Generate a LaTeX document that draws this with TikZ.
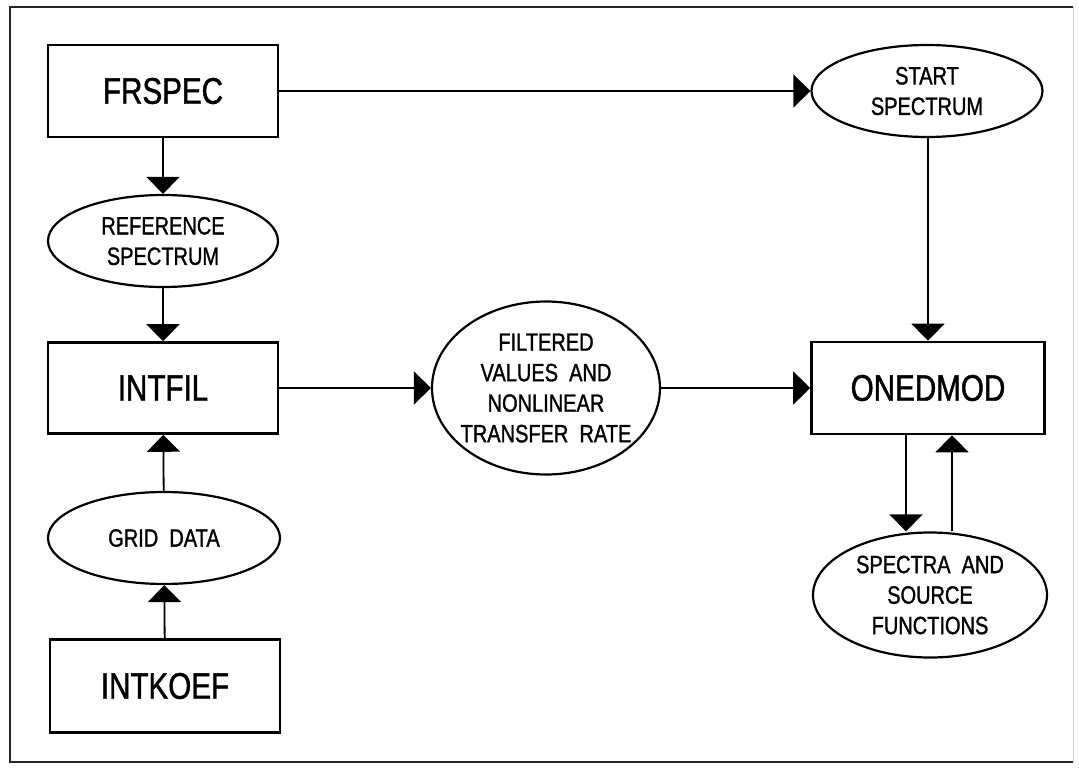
\documentclass[tikz,border=0pt]{standalone}
\usepackage{fontspec}
\setmainfont{Liberation Sans}
\newfontfamily\plotfont[FakeStretch=0.8,FakeBold=1.2]{Liberation Sans}
\usetikzlibrary{arrows.meta,shapes.geometric}
\begin{document}
\begin{tikzpicture}[x=1pt,y=-1pt,
  boxnode/.style={draw,line width=2.6pt,rectangle,minimum width=230pt,minimum height=92pt,inner sep=0pt,
    font=\plotfont\fontsize{37}{40}\selectfont},
  ovalnode/.style={draw,line width=2.2pt,ellipse,inner xsep=-60pt,inner ysep=-60pt,align=center,
    font=\plotfont\fontsize{25}{30.5}\selectfont},
  arr/.style={line width=1.8pt,-{Triangle[width=33pt,length=17pt]}},
  conn/.style={line width=1.8pt}]
\useasboundingbox (0,0) rectangle (1079,768);
\fill[white] (0,0) rectangle (1079,768);
% frame
\draw[line width=2pt,black!85] (1073,7) -- (10,7) -- (10,762) -- (1073,762);
\draw[line width=1pt,black!20] (1073,7) -- (1073,762);
% nodes
\node[boxnode] (frspec) at (163,91) {FRSPEC};
\node[ovalnode,minimum width=230pt,minimum height=92pt] (ref) at (163,241) {REFERENCE\\SPECTRUM};
\node[boxnode,minimum height=91pt] (intfil) at (163,388) {INTFIL};
\node[ovalnode,minimum width=232pt,minimum height=92pt] (grid) at (164,538) {GRID\ \ DATA};
\node[boxnode,minimum height=93pt] (intkoef) at (165,686) {INTKOEF};
\node[ovalnode,minimum width=228pt,minimum height=173pt] (filt) at (546,388) {FILTERED\\VALUES\ \ AND\\NONLINEAR\\TRANSFER\ \ RATE};
\node[boxnode,minimum width=233pt] (onedmod) at (928,388) {ONEDMOD};
\node[ovalnode,minimum width=231pt,minimum height=92pt] (start) at (927,91) {START\\SPECTRUM};
\node[ovalnode,minimum width=234pt,minimum height=125pt] (spectra) at (930,595) {SPECTRA\ \ AND\\SOURCE\\FUNCTIONS};
% connectors
\draw[arr] (frspec) -- (start);
\draw[arr] (frspec) -- (ref);
\draw[arr] (ref) -- (intfil);
\draw[arr] (grid) -- (intfil);
\draw[arr] (intkoef) -- (grid);
\draw[arr] (intfil) -- (filt);
\draw[arr] (filt) -- (onedmod);
\draw[arr] (start.south -| onedmod.north) -- (onedmod.north);
\coordinate (dn) at ([xshift=-22pt]onedmod.south);
\coordinate (up) at ([xshift=24pt]onedmod.south);
\draw[arr] (dn) -- (dn |- spectra.north);
\draw[arr] (up |- spectra.north) -- (up);
\end{tikzpicture}
\end{document}
